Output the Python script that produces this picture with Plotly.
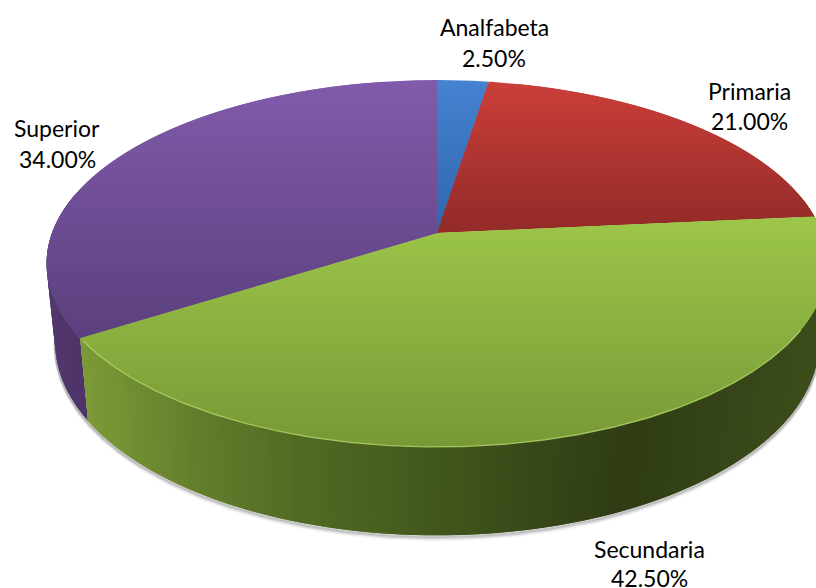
import numpy as np
import plotly.graph_objects as go

categories = ["Analfabeta", "Primaria", "Secundaria", "Superior"]
values = [2.5, 21.0, 42.5, 34.0]
value_labels = ["2.50%", "21.00%", "42.50%", "34.00%"]

W, H = 816, 588
APEX_X, APEX_Y = 437.0, 233.0
RX, RY, PERSP = 385.0, 178.4, 0.1662
DEPTH, SHRINK = 77.6, 0.978

top_stops = [
    [(80, "#4582d0"), (235, "#2f66ab")],
    [(80, "#cc3f3a"), (220, "#962c29")],
    [(215, "#9dc74a"), (450, "#769836")],
    [(80, "#815bab"), (345, "#5a3f7c")],
]
side_stops = {
    2: [(80, "#7d9a38"), (200, "#627d2b"), (300, "#516a23"), (420, "#44591d"),
        (520, "#394a18"), (630, "#2f3c14"), (720, "#364518"), (816, "#3d4c1b")],
    3: [(40, "#53386f"), (90, "#4c3266")],
}
label_pos = [(494, 27, 58), (749, 91, 121), (649, 549, 578), (57, 128, 159)]


def hex_rgb(c):
    return np.array([int(c[i:i + 2], 16) for i in (1, 3, 5)], float)


def ramp(stops, t):
    xs = [s[0] for s in stops]
    cs = np.array([hex_rgb(s[1]) for s in stops])
    rgb = [np.interp(t, xs, cs[:, i]) for i in range(3)]
    return "rgb(%d,%d,%d)" % tuple(round(v) for v in rgb)


def rim(theta_deg, lower=False):
    th = np.radians(theta_deg)
    u, v = np.sin(th), np.cos(th)
    w = 1 + PERSP * v
    x, y = RX * u / w, -RY * v / w
    if lower:
        x, y = x * SHRINK, y * SHRINK + DEPTH / w
    return APEX_X + x, APEX_Y + y


def clip_band(xs, ys, y0, y1):
    pts = list(zip(xs, ys))
    for bound, keep_below in ((y0, False), (y1, True)):
        out = []
        for i in range(len(pts)):
            a, b = pts[i], pts[(i + 1) % len(pts)]
            ina = a[1] <= bound if keep_below else a[1] >= bound
            inb = b[1] <= bound if keep_below else b[1] >= bound
            if ina:
                out.append(a)
            if ina != inb:
                t = (bound - a[1]) / (b[1] - a[1])
                out.append((a[0] + t * (b[0] - a[0]), bound))
        pts = out
        if not pts:
            return [], []
    return [p[0] for p in pts], [p[1] for p in pts]


fig = go.Figure()


def poly(xs, ys, color):
    xs = list(xs) + [xs[0]]
    ys = list(ys) + [ys[0]]
    fig.add_trace(go.Scatter(x=xs, y=ys, mode="lines", fill="toself", fillcolor=color,
                             line=dict(width=0), hoverinfo="skip", showlegend=False))


total = sum(values)
edges = np.concatenate([[0], np.cumsum(values)]) / total * 360

# soft shadow under the body
for off, alpha in ((4.5, 0.05), (3.2, 0.08), (2.2, 0.12), (1.2, 0.18)):
    th = np.linspace(95, 272, 200)
    sx, sy = rim(th, lower=True)
    fig.add_trace(go.Scatter(x=sx, y=sy + off, mode="lines",
                             line=dict(color="rgba(60,60,60,%g)" % alpha, width=3),
                             hoverinfo="skip", showlegend=False))

# visible side wall: each strip runs on past the next one, so no seams show
STEP = 1.0
for idx, (a, b) in ((3, (edges[3], 283.0)), (2, (78.0, edges[3]))):
    steps = np.linspace(a, b, int((b - a) / STEP) + 2)
    for t0, t1 in zip(steps[:-1], steps[1:]):
        ends = np.linspace(t0, min(b, t1 + STEP), 4)
        ux, uy = rim(ends)
        lx, ly = rim(ends[::-1], True)
        poly(list(ux) + list(lx), list(uy) + list(ly), ramp(side_stops[idx], rim((t0 + t1) / 2)[0]))

# top face, built from slice values, shaded in horizontal bands
for i in range(len(values)):
    arc = np.linspace(edges[i], edges[i + 1], 160)
    ax, ay = rim(arc)
    xs = [APEX_X] + list(ax)
    ys = [APEX_Y] + list(ay)
    lo, hi = min(ys), max(ys)
    bands = np.arange(np.floor(lo), hi + 3, 3)
    for y0, y1 in zip(bands[:-1], bands[1:]):
        cx, cy = clip_band(xs, ys, y0, min(y1 + 3, bands[-1]))
        if len(cx) >= 3:
            poly(cx, cy, ramp(top_stops[i], (y0 + y1) / 2))

# light bevel on the front edge of the green slice
arc = np.linspace(edges[3] - 1, 120, 240)
bx, by = rim(arc)
fig.add_trace(go.Scatter(x=bx, y=by, mode="lines", line=dict(color="rgba(178,214,100,0.75)", width=1.4),
                         hoverinfo="skip", showlegend=False))

FONT = dict(family="Lato, Carlito, Calibri, sans-serif", size=23, color="#000000")
annotations = []
for name, val, (lx, y0, y1) in zip(categories, value_labels, label_pos):
    annotations.append(dict(x=lx, y=y0, text=name, showarrow=False, font=FONT,
                            xanchor="center", yanchor="middle"))
    annotations.append(dict(x=lx, y=y1, text=val, showarrow=False, font=FONT,
                            xanchor="center", yanchor="middle"))

fig.update_layout(
    width=W, height=H, margin=dict(l=0, r=0, t=0, b=0),
    paper_bgcolor="white", plot_bgcolor="white", showlegend=False,
    xaxis=dict(range=[0, W], visible=False, fixedrange=True),
    yaxis=dict(range=[H, 0], visible=False, fixedrange=True),
    annotations=annotations,
)
fig.write_html("out.html", config={"displayModeBar": False},
               post_script="document.body.style.margin='0';document.body.style.overflow='hidden';")
